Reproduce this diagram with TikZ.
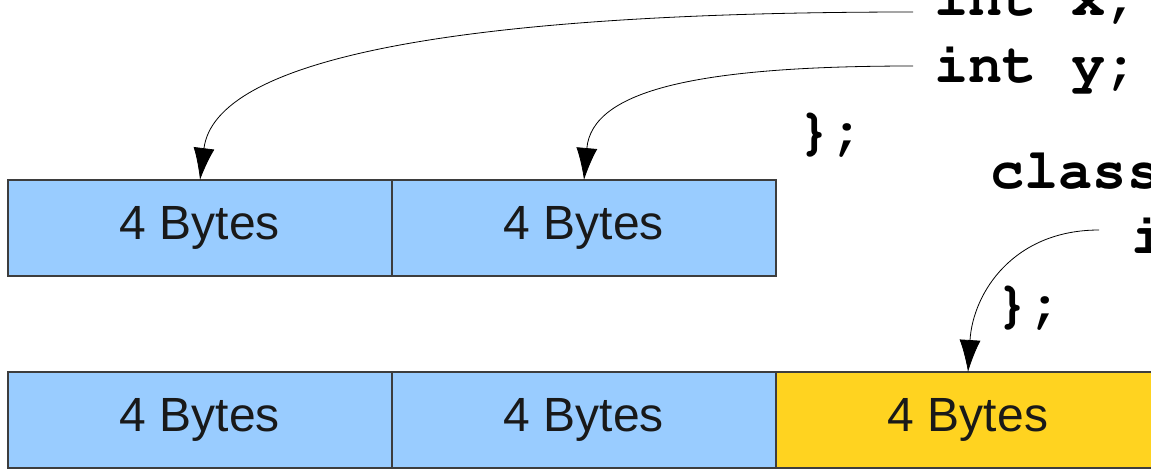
\documentclass[tikz,border=0pt]{standalone}
\usepackage{fontspec}
\setmainfont{Liberation Sans}
\usetikzlibrary{arrows.meta,calc,positioning}
\definecolor{byteBlue}{rgb}{0.6,0.8,1}
\definecolor{byteYellow}{rgb}{1,0.827,0.125}
\definecolor{byteLine}{rgb}{0.24,0.24,0.24}
\newcommand\codefont{\fontencoding{T1}\fontfamily{pcr}\fontseries{b}\selectfont}

\begin{document}
\begin{tikzpicture}[x=1pt,y=-1pt,
  byte/.style={draw=byteLine,line width=1.2pt,minimum width=384pt,minimum height=96pt,inner sep=0pt,outer sep=0pt,text=black!90,font=\fontsize{48}{48}\selectfont},
  code/.style={anchor=base west,inner sep=0pt,font=\codefont\fontsize{57}{57}\selectfont},
  member/.style={->,>={Latex[length=32pt,width=21pt]},line width=0.8pt}]
\useasboundingbox (0,0) rectangle (1151,469);

\def\cWidth{384}
\def\cLeft{8}
\def\topRow{228}
\def\bottomRow{420}

% draw the byte cells of the struct
\foreach \ni in {1,2}
  \node[byte,fill=byteBlue] (s\ni) at ({\cLeft+\cWidth*(\ni-0.5)},\topRow) {4 Bytes};

% draw the byte cells of the class (last one is the extra member)
\foreach \ni in {1,2}
  \node[byte,fill=byteBlue] (c\ni) at ({\cLeft+\cWidth*(\ni-0.5)},\bottomRow) {4 Bytes};
\node[byte,fill=byteYellow] (c3) at ({\cLeft+\cWidth*2.5},\bottomRow) {4 Bytes};

% the code
\node[code] (memx) at (934,15) {int x;};
\node[code] (memy) at (934,82) {int y;};
\node[code] (sEnd) at (797,148) {\};};
\node[code] (cls) at (990,188) {class};
\node[code] (memi) at (1131,253) {i};
\node[code] (cEnd) at (995,321) {\};};

% where the arrows leave the members
\coordinate (xOut) at ($(memx.base west)+(-21,-3)$);
\coordinate (yOut) at ($(memy.base west)+(-21,-16)$);
\coordinate (iOut) at ($(memi.base west)+(-32,-23)$);

% draw the arrows from the members to their bytes
\draw[member] (xOut) .. controls +(-463,0) and +(15,-120) .. (s1.north);
\draw[member] (yOut) .. controls +(-215,0) and +(8,-90) .. (s2.north);
\draw[member] (iOut) .. controls +(-85,0) and +(5,-80) .. (c3.north);

\end{tikzpicture}
\end{document}
